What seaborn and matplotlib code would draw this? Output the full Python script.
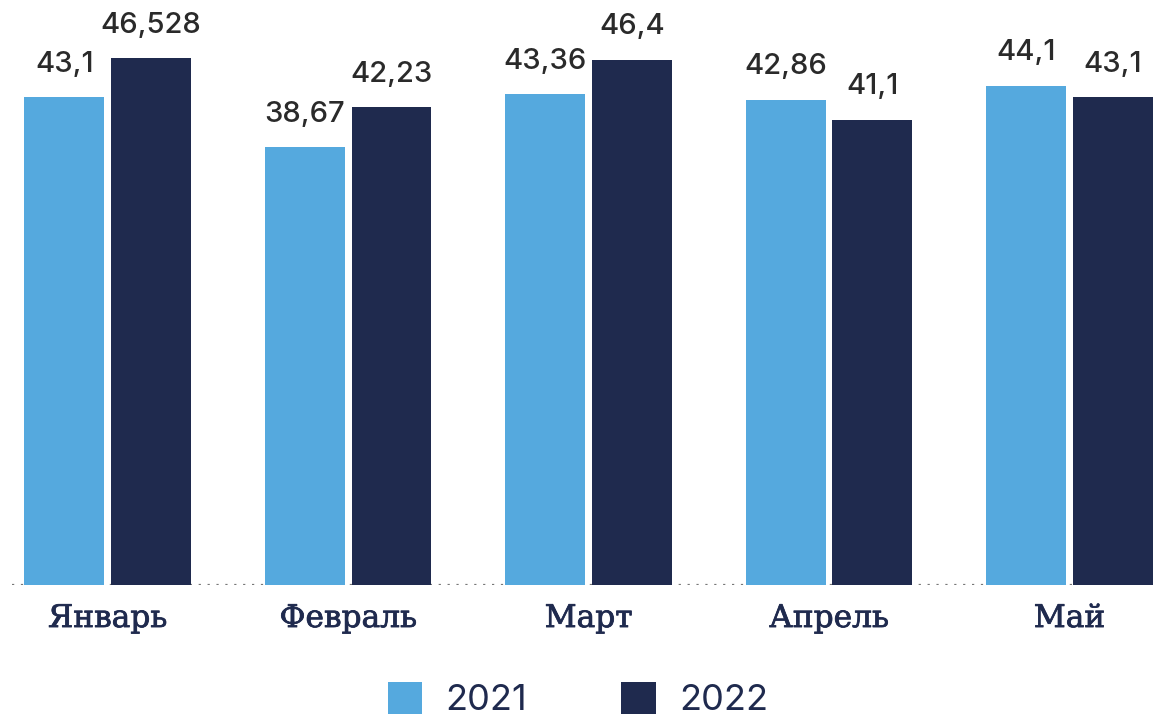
import matplotlib
matplotlib.use("Agg")
import matplotlib.pyplot as plt
import matplotlib.patheffects as pe
import seaborn as sns
import pandas as pd

months = ["Январь", "Февраль", "Март", "Апрель", "Май"]
years = ["2021", "2022"]
vals_2021 = [43.1, 38.67, 43.36, 42.86, 44.1]
vals_2022 = [46.528, 42.23, 46.4, 41.1, 43.1]
labels_2021 = ["43,1", "38,67", "43,36", "42,86", "44,1"]
labels_2022 = ["46,528", "42,23", "46,4", "41,1", "43,1"]

LIGHT = "#55a9de"
NAVY = "#1f2a4e"

df = pd.DataFrame({
    "month": months * 2,
    "year": [years[0]] * len(months) + [years[1]] * len(months),
    "value": vals_2021 + vals_2022,
})

sns.set_theme(style="white")
plt.rcParams["font.family"] = ["Inter", "DejaVu Sans"]

fig = plt.figure(figsize=(11.56, 7.23), dpi=100)
ax = fig.add_axes([0.0, 0.1909, 1.0, 0.8091])

sns.barplot(data=df, x="month", y="value", hue="year",
            palette=[LIGHT, NAVY], width=0.722, gap=0.08,
            saturation=1, linewidth=0, ax=ax, legend=True)

for cont, labs in zip(ax.containers, [labels_2021, labels_2022]):
    ax.bar_label(cont, labels=labs, padding=14, fontsize=21,
                 color="#2a2a2a", fontweight="medium")

ax.set_ylim(0, 51.68)
ax.set_xlim(-0.448, 4.36)
# dotted baseline
ax.axhline(0, xmin=0.01, color="#777777", lw=1.6, ls=(0, (1, 3)), zorder=0)
sns.despine(ax=ax, left=True, bottom=True, top=True, right=True)
ax.set_yticks([])
ax.set_xlabel("")
ax.set_ylabel("")
ax.tick_params(axis="x", length=0, pad=13)
# semi-bold look for the serif month names
for t in ax.get_xticklabels():
    t.set_fontfamily(["DejaVu Serif"])
    t.set_fontsize(22.5)
    t.set_color(NAVY)
    t.set_path_effects([pe.withStroke(linewidth=0.55, foreground=NAVY)])

handles, lbls = ax.get_legend_handles_labels()
ax.get_legend().remove()
fig.legend(handles, lbls, loc="center", bbox_to_anchor=(0.5, 0.032),
           ncol=2, frameon=False, fontsize=26, labelcolor=NAVY,
           handlelength=0.95, handleheight=0.95, handletextpad=0.65,
           columnspacing=2.6, borderpad=0.1)

fig.savefig("out.png", dpi=100)
